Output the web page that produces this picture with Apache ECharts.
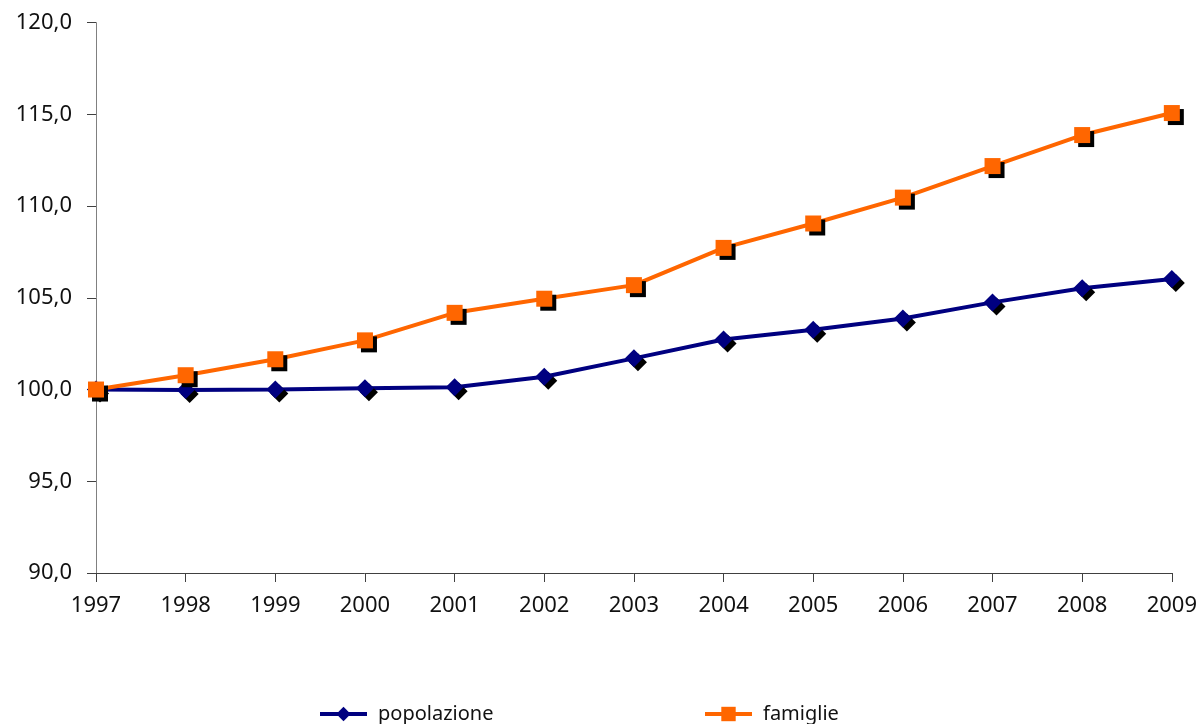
<!DOCTYPE html>
<html><head><meta charset="utf-8">
<script src="https://cdn.jsdelivr.net/npm/echarts@6/dist/echarts.min.js"></script>
<style>html,body{margin:0;padding:0;background:#fff}#c{width:1200px;height:724px}</style>
</head><body><div id="c"></div>
<script>
const years = ['1997','1998','1999','2000','2001','2002','2003','2004','2005','2006','2007','2008','2009'];
const popolazione = [100.0, 99.98, 100.0, 100.07, 100.13, 100.7, 101.7, 102.73, 103.26, 103.87, 104.75, 105.52, 106.03];
const famiglie = [100.0, 100.78, 101.65, 102.68, 104.18, 104.95, 105.69, 107.72, 109.05, 110.46, 112.18, 113.87, 115.07];
const yTicks = {min: 90, max: 120, interval: 5};

const font = 'Noto Sans';
const chart = echarts.init(document.getElementById('c'), null, {renderer: 'canvas'});
const shadow = {shadowColor: '#000', shadowBlur: 0, shadowOffsetX: 4, shadowOffsetY: 4};
const legendBase = {
  top: 699, itemWidth: 47, itemHeight: 18,
  textStyle: {fontFamily: font, fontSize: 20, color: '#111', padding: [0,0,0,6]},
  itemStyle: {shadowColor: 'rgba(0,0,0,0)', shadowOffsetX: 0, shadowOffsetY: 0},
  lineStyle: {width: 4}
};
chart.setOption({
  animation: false,
  backgroundColor: '#fff',
  grid: {left: 96, right: 27, top: 22.6, bottom: 151},
  xAxis: {
    type: 'category', data: years, boundaryGap: false,
    axisLine: {lineStyle: {color: '#404040', width: 1}},
    axisTick: {alignWithLabel: true, length: 9, lineStyle: {color: '#404040'}},
    axisLabel: {color: '#111', fontFamily: font, fontSize: 22, margin: 22}
  },
  yAxis: {
    type: 'value', min: yTicks.min, max: yTicks.max, interval: yTicks.interval,
    axisLine: {show: true, lineStyle: {color: '#808080', width: 1}},
    axisTick: {show: true, length: 9, lineStyle: {color: '#404040'}},
    splitLine: {show: false},
    axisLabel: {color: '#111', fontFamily: font, fontSize: 22, margin: 24,
      formatter: v => v.toFixed(1).replace('.', ',')}
  },
  legend: [
    Object.assign({left: 313, data: ['popolazione']}, legendBase),
    Object.assign({left: 698, data: ['famiglie']}, legendBase)
  ],
  series: [
    {name: 'popolazione', type: 'line', data: popolazione,
      symbol: 'diamond', symbolSize: [18, 18],
      lineStyle: {color: '#000080', width: 4},
      itemStyle: Object.assign({color: '#000080'}, shadow)},
    {name: 'famiglie', type: 'line', data: famiglie,
      symbol: 'rect', symbolSize: 16,
      lineStyle: {color: '#FF6600', width: 4},
      itemStyle: Object.assign({color: '#FF6600'}, shadow)}
  ]
});
</script></body></html>
